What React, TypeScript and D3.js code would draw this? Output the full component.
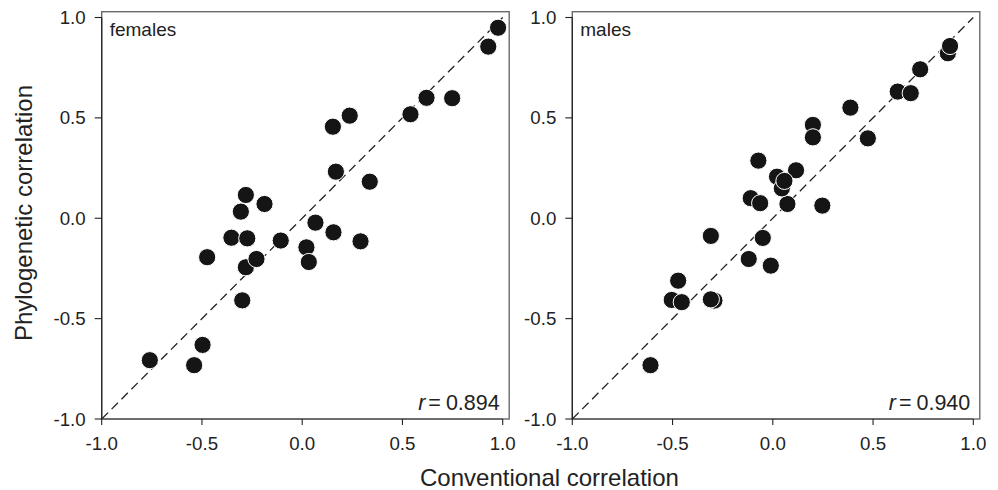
import React from "react";
import * as d3 from "d3";

const tickValues = [-1.0, -0.5, 0.0, 0.5, 1.0];
const tickLabels = ["-1.0", "-0.5", "0.0", "0.5", "1.0"];

const femalesX = [-0.76, -0.539, -0.497, -0.299, -0.281, -0.228, -0.474, 0.021, 0.033, -0.353, -0.274, -0.107, 0.066, 0.156, 0.291, -0.281, -0.306, -0.188, 0.168, 0.337, 0.153, 0.237, 0.54, 0.62, 0.748, 0.928, 0.977];
const femalesY = [-0.707, -0.732, -0.631, -0.409, -0.244, -0.203, -0.194, -0.145, -0.218, -0.097, -0.1, -0.111, -0.022, -0.07, -0.115, 0.116, 0.033, 0.071, 0.232, 0.182, 0.456, 0.511, 0.518, 0.6, 0.598, 0.855, 0.949];

const malesX = [-0.61, -0.504, -0.454, -0.472, -0.291, -0.309, -0.309, -0.12, -0.01, -0.05, -0.11, -0.063, -0.072, 0.073, 0.247, 0.116, 0.021, 0.045, 0.058, 0.2, 0.2, 0.474, 0.387, 0.623, 0.688, 0.735, 0.873, 0.884];
const malesY = [-0.732, -0.407, -0.418, -0.311, -0.41, -0.404, -0.088, -0.203, -0.236, -0.098, 0.1, 0.075, 0.287, 0.071, 0.063, 0.239, 0.207, 0.149, 0.186, 0.465, 0.403, 0.398, 0.551, 0.631, 0.623, 0.742, 0.822, 0.858];

const panelNames = ["females", "males"];
const rValues = ["0.894", "0.940"];

const W = 998;
const H = 490;
const FONT = "'Liberation Sans', Arial, Helvetica, sans-serif";
const plotTop = 17.5;
const plotBottom = 419;
const boxTop = 11.7;
const boxExtra = 6.5;
const plotW = 401;
const panelLeft = [101.7, 572.3];

function Panel({ xs, ys, left, name, r }: { xs: number[]; ys: number[]; left: number; name: string; r: string }) {
  const x = d3.scaleLinear().domain([-1, 1]).range([left, left + plotW]);
  const y = d3.scaleLinear().domain([-1, 1]).range([plotBottom, plotTop]);
  const boxRight = left + plotW + boxExtra;
  return (
    <g>
      <rect x={left} y={boxTop} width={boxRight - left} height={plotBottom - boxTop} fill="none" stroke="#6a6a6a" strokeWidth={1.4} />
      <line x1={left} x2={left} y1={y(-1)} y2={y(1)} stroke="#222" strokeWidth={1.2} />
      <line x1={x(-1)} x2={x(1)} y1={plotBottom} y2={plotBottom} stroke="#444" strokeWidth={1.2} />
      {tickValues.map((t, i) => (
        <g key={"xt" + i}>
          <line x1={x(t)} x2={x(t)} y1={plotBottom} y2={plotBottom + 6} stroke="#222" strokeWidth={1.1} />
          <text x={x(t)} y={450} textAnchor="middle" fontSize={18.7} fill="#222" fontFamily={FONT}>{tickLabels[i]}</text>
        </g>
      ))}
      {tickValues.map((t, i) => (
        <g key={"yt" + i}>
          <line x1={left - 7} x2={left} y1={y(t)} y2={y(t)} stroke="#222" strokeWidth={1.1} />
          <text x={left - 16} y={y(t)} dy="0.35em" textAnchor="end" fontSize={18.7} fill="#222" fontFamily={FONT}>{tickLabels[i]}</text>
        </g>
      ))}
      <line x1={x(-1)} y1={y(-1)} x2={x(1)} y2={y(1)} stroke="#222" strokeWidth={1.3} strokeDasharray="9,5" />
      {xs.map((v, i) => (
        <circle key={"p" + i} cx={x(v)} cy={y(ys[i])} r={8.6} fill="#151515" stroke="#fff" strokeWidth={1} />
      ))}
      <text x={left + 8} y={36} fontSize={19} fill="#222" fontFamily={FONT}>{name}</text>
      <text x={x(1) - 3} y={410} textAnchor="end" fontSize={21.5} fill="#222" fontFamily={FONT}>
        <tspan fontStyle="italic">r</tspan>
        <tspan dx={3}>=</tspan>
        <tspan dx={5}>{r}</tspan>
      </text>
    </g>
  );
}

export default function App() {
  return (
    <div style={{ position: "absolute", left: 0, top: 0 }}>
      <svg width={W} height={H} viewBox={`0 0 ${W} ${H}`} style={{ display: "block", background: "#fff" }}>
        <Panel xs={femalesX} ys={femalesY} left={panelLeft[0]} name={panelNames[0]} r={rValues[0]} />
        <Panel xs={malesX} ys={malesY} left={panelLeft[1]} name={panelNames[1]} r={rValues[1]} />
        <text x={0} y={0} transform={`translate(32, 213) rotate(-90)`} textAnchor="middle" fontSize={24} fill="#222" fontFamily={FONT}>
          Phylogenetic correlation
        </text>
        <text x={420} y={486} textAnchor="start" fontSize={24} fill="#222" fontFamily={FONT}>
          Conventional correlation
        </text>
      </svg>
    </div>
  );
}
